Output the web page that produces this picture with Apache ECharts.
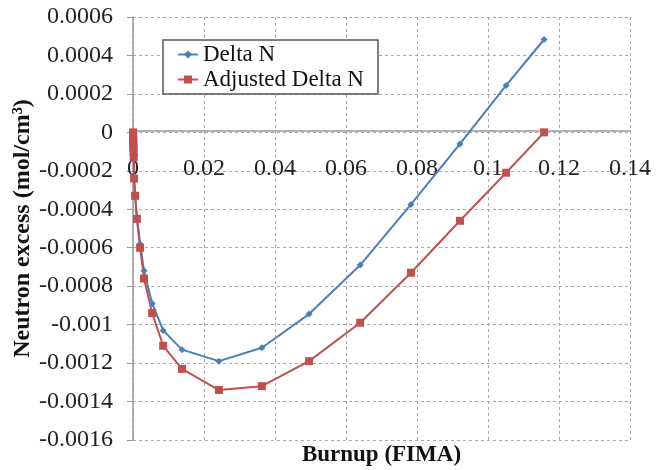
<!DOCTYPE html>
<html>
<head>
<meta charset="utf-8">
<script src="https://cdn.jsdelivr.net/npm/echarts@6/dist/echarts.min.js"></script>
<style>
  html, body { margin: 0; padding: 0; background: #fff; }
  #chart { width: 660px; height: 470px; }
</style>
</head>
<body>
<div id="chart"></div>
<script>
// burnup (FIMA) shared by both curves
const burnup = [0, 0.00002, 0.00004, 0.00006, 0.00008, 0.0001, 0.00012, 0.00015, 0.0002,
  0.0003, 0.0006, 0.0011, 0.002, 0.0031, 0.0054, 0.0085, 0.0138, 0.0242, 0.0363,
  0.0496, 0.064, 0.0783, 0.0921, 0.1051, 0.1158]
const deltaN = [0, -0.00001, -0.00002, -0.00004, -0.00005, -0.00007, -0.00008, -0.0001, -0.00013,
  -0.00023, -0.00032, -0.00044, -0.00058, -0.00072, -0.00089, -0.00103, -0.00113, -0.00119, -0.00112,
  -0.000945, -0.00069, -0.000375, -0.00006, 0.000244, 0.000483]
const adjustedDeltaN = [0, -0.00001, -0.00002, -0.00004, -0.00005, -0.00007, -0.00008, -0.0001, -0.00013,
  -0.00024, -0.00033, -0.00045, -0.0006, -0.00076, -0.00094, -0.00111, -0.00123, -0.00134, -0.00132,
  -0.00119, -0.00099, -0.00073, -0.00046, -0.00021, 0]
const seriesNames = ['Delta N', 'Adjusted Delta N']

const pairs = (ys) => burnup.map((x, i) => [x, ys[i]])
const font = 'Liberation Serif'

const myChart = echarts.init(document.getElementById('chart'))
myChart.setOption({
  animation: false,
  textStyle: { fontFamily: font },
  grid: { left: 133, right: 30, top: 17, bottom: 30, containLabel: false, outerBoundsMode: 'none' },
  legend: {
    orient: 'vertical',
    left: 163,
    top: 40,
    padding: [3, 14, 3, 14],
    itemGap: 2,
    itemWidth: 20,
    itemHeight: 10,
    backgroundColor: '#fff',
    borderColor: '#555',
    borderWidth: 1.5,
    borderRadius: 0,
    textStyle: { fontFamily: font, fontSize: 23, lineHeight: 23, color: '#111' },
    data: seriesNames
  },
  xAxis: {
    type: 'value',
    min: 0,
    max: 0.14,
    interval: 0.02,
    position: 'bottom',
    offset: -309, // axis sits on the zero line, labels just below it
    name: 'Burnup (FIMA)',
    nameLocation: 'middle',
    nameGap: 313,
    nameMoveOverlap: false,
    nameTextStyle: { fontFamily: font, fontSize: 23, fontWeight: 'bold', color: '#111' },
    axisLine: { onZero: false, lineStyle: { color: '#999', width: 1.5 } },
    axisTick: { show: false },
    axisLabel: {
      fontFamily: font, fontSize: 24, color: '#222', margin: 26,
      formatter: (v) => String(+v.toFixed(2))
    },
    splitLine: { show: true, lineStyle: { color: '#aaa', type: [3, 3] } }
  },
  yAxis: {
    type: 'value',
    min: -0.0016,
    max: 0.0006,
    interval: 0.0002,
    name: 'Neutron excess (mol/cm³)',
    nameLocation: 'middle',
    nameGap: 98,
    nameMoveOverlap: false,
    nameTextStyle: { fontFamily: font, fontSize: 24, fontWeight: 'bold', color: '#111' },
    axisLine: { show: true, lineStyle: { color: '#999', width: 1.5 } },
    axisTick: { show: true, length: 6, lineStyle: { color: '#999' } },
    axisLabel: {
      fontFamily: font, fontSize: 24, color: '#222', margin: 20,
      formatter: (v) => String(+v.toFixed(4))
    },
    splitLine: { show: true, lineStyle: { color: '#aaa', type: [3, 3] } }
  },
  series: [
    {
      name: seriesNames[0],
      type: 'line',
      symbol: 'diamond',
      symbolSize: 7,
      color: '#4A7EBB',
      lineStyle: { width: 2 },
      data: pairs(deltaN)
    },
    {
      name: seriesNames[1],
      type: 'line',
      symbol: 'rect',
      symbolSize: 8,
      color: '#C0504D',
      lineStyle: { width: 2 },
      data: pairs(adjustedDeltaN)
    }
  ]
})
</script>
</body>
</html>
